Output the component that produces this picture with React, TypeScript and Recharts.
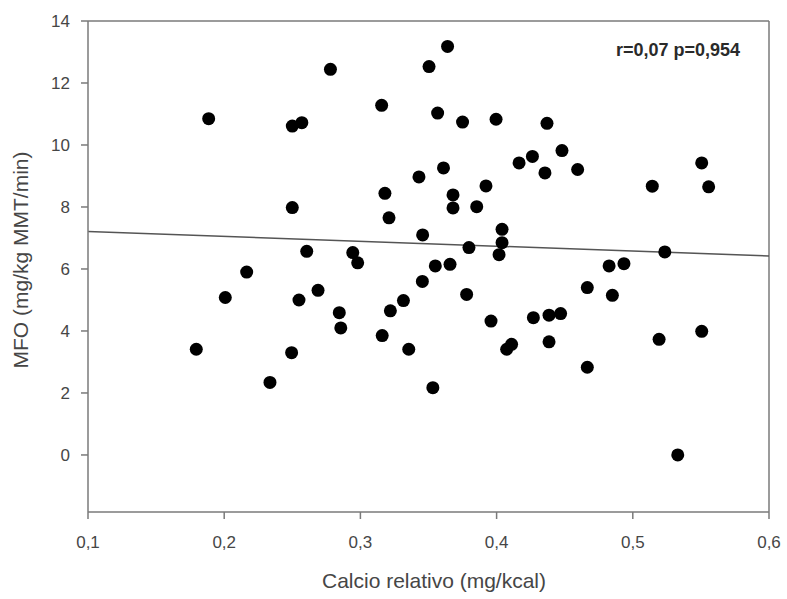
import React from "react";
import {
  ScatterChart, Scatter, XAxis, YAxis, ReferenceLine, Label
} from "recharts";

// calcio relativo (mg/kcal)
const calcio = [
  0.1795, 0.1886, 0.2008, 0.2165, 0.2336, 0.25, 0.2495, 0.25, 0.257, 0.2549,
  0.2606, 0.2689, 0.278, 0.2845, 0.2856, 0.2944, 0.298, 0.3156, 0.316, 0.318,
  0.321, 0.322, 0.3316, 0.3355, 0.343, 0.3455, 0.3457, 0.3504, 0.3532, 0.355,
  0.3567, 0.361, 0.364, 0.3658, 0.368, 0.368, 0.375, 0.378, 0.3797, 0.3854,
  0.3922, 0.3959, 0.3996, 0.404, 0.404, 0.4018, 0.4074, 0.411, 0.4165, 0.4263,
  0.427, 0.4355, 0.437, 0.4385, 0.4385, 0.447, 0.448, 0.4595, 0.4666, 0.4666,
  0.4826, 0.485, 0.4935, 0.5143, 0.5193, 0.5235, 0.533, 0.5506, 0.5506, 0.5557
];

// MFO (mg/kg MMT/min)
const mfo = [
  3.41, 10.85, 5.08, 5.9, 2.34, 7.98, 3.3, 10.61, 10.72, 5.0,
  6.57, 5.31, 12.44, 4.59, 4.1, 6.53, 6.2, 11.28, 3.85, 8.44,
  7.65, 4.65, 4.98, 3.41, 8.97, 5.6, 7.1, 12.53, 2.17, 6.1,
  11.03, 9.26, 13.18, 6.15, 8.39, 7.97, 10.74, 5.18, 6.69, 8.01,
  8.68, 4.32, 10.83, 7.28, 6.85, 6.46, 3.41, 3.57, 9.42, 9.63,
  4.43, 9.1, 10.7, 4.51, 3.65, 4.56, 9.82, 9.21, 5.4, 2.83,
  6.1, 5.15, 6.17, 8.67, 3.73, 6.55, 0.0, 9.42, 3.99, 8.65
];

// regression line end points
const fitX = [0.1, 0.6];
const fitY = [7.21, 6.42];

const xTicks = [0.1, 0.2, 0.3, 0.4, 0.5, 0.6];
const yTicks = [0, 2, 4, 6, 8, 10, 12, 14];

const points = calcio.map((x, i) => ({ x, y: mfo[i] }));

const FONT = "'Liberation Sans', Arial, sans-serif";
const AXIS = "#7a7a7a";
const TEXT = "#464646";

export default function App() {
  return (
    <div style={{ position: "absolute", left: 0, top: 0, width: 787, height: 599, background: "#fff", fontFamily: FONT }}>
      <ScatterChart width={787} height={599} margin={{ top: 21, right: 18, bottom: 57, left: 38 }}>
        <XAxis
          type="number"
          dataKey="x"
          domain={[0.1, 0.6]}
          ticks={xTicks}
          tickFormatter={(v: number) => v.toFixed(1).replace(".", ",")}
          stroke={AXIS}
          strokeWidth={1.5}
          tickSize={7}
          tickMargin={17}
          height={30}
          tick={{ fill: TEXT, fontSize: 17, fontFamily: FONT }}
          allowDataOverflow
        >
          <Label
            content={() => (
              <text
                x={434}
                y={582}
                textAnchor="middle"
                dominantBaseline="middle"
                style={{ fill: TEXT, fontSize: 21, fontFamily: FONT }}
              >
                Calcio relativo (mg/kcal)
              </text>
            )}
          />
        </XAxis>
        <YAxis
          type="number"
          dataKey="y"
          domain={[-1.84, 14]}
          ticks={yTicks}
          stroke={AXIS}
          strokeWidth={1.5}
          tickSize={7}
          tickMargin={11}
          width={50}
          tick={{ fill: TEXT, fontSize: 17, fontFamily: FONT }}
          allowDataOverflow
        >
          <Label
            content={() => (
              <text
                x={22}
                y={260}
                transform="rotate(-90 22 260)"
                textAnchor="middle"
                dominantBaseline="middle"
                style={{ fill: TEXT, fontSize: 21, fontFamily: FONT }}
              >
                MFO (mg/kg MMT/min)
              </text>
            )}
          />
        </YAxis>
        <ReferenceLine y={14} stroke={AXIS} strokeWidth={1.5} />
        <ReferenceLine x={0.6} stroke={AXIS} strokeWidth={1.5} />
        <ReferenceLine
          segment={[{ x: fitX[0], y: fitY[0] }, { x: fitX[1], y: fitY[1] }]}
          stroke="#555"
          strokeWidth={1.5}
        />
        <Scatter data={points} fill="#000" isAnimationActive={false}
          shape={(p: any) => <circle cx={p.cx} cy={p.cy} r={6.5} fill="#000" />}
        />
      </ScatterChart>
      <div style={{ position: "absolute", left: 616, top: 39, fontSize: 18, lineHeight: "22px", fontWeight: "bold", color: "#2a2a2a", whiteSpace: "nowrap" }}>
        r=0,07 p=0,954
      </div>
    </div>
  );
}
